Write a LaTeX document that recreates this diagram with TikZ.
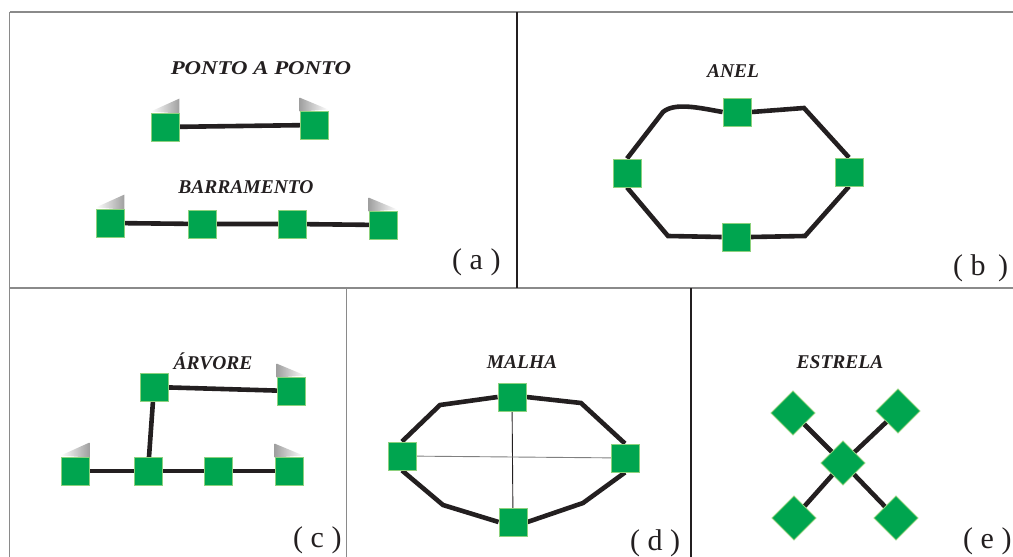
\documentclass[tikz,border=0pt]{standalone}
\usepackage{fontspec}
\setmainfont{Liberation Serif}
\pgfdeclarelayer{bg}
\pgfsetlayers{bg,main}
\definecolor{nodegreen}{HTML}{00A54F}
\definecolor{nodeedge}{HTML}{8DD17E}
\definecolor{wire}{HTML}{231F20}
\definecolor{framegray}{HTML}{8A8A8A}
\tikzset{
  sq/.style={draw=nodeedge, fill=nodegreen, line width=0.9pt, minimum size=28pt, inner sep=0pt},
  dia/.style={sq, minimum size=31pt, rotate=45},
  link/.style={draw=wire, line width=4.6pt, line join=miter},
  thin link/.style={draw=wire, line width=0.9pt},
  title/.style={font=\fontsize{19.5}{20}\selectfont\bfseries\itshape, text=wire, anchor=base, inner sep=0pt},
  tag/.style={font=\fontsize{30}{30}\selectfont, text=wire, anchor=base west, inner sep=0pt},
  frame/.style={draw=framegray, line width=1.6pt},
  divider/.style={draw=wire, line width=1.2pt},
}
% grey wedge shadows standing above the end stations
\newcommand{\wedgeL}[1]{%
  \shade[left color=white, right color=gray!75]
    ([yshift=1pt]#1.north west) -- ([yshift=14pt]#1.north east) -- ([yshift=-1pt]#1.north east) -- cycle;}
\newcommand{\wedgeR}[1]{%
  \shade[left color=gray!75, right color=white]
    ([yshift=13pt]#1.north west) -- ([yshift=1pt]#1.north east) -- ([yshift=-1pt]#1.north west) -- cycle;}
\begin{document}
\begin{tikzpicture}[x=1pt, y=-1pt]
\useasboundingbox (0,0) rectangle (1013,557);

% panel frame
\draw[frame] (9.5,12) -- (1020,12);
\draw[frame] (9.5,12) -- (9.5,560);
\draw[frame] (9.5,288) -- (1020,288);
\draw[frame] (346.5,288) -- (346.5,560);
\draw[divider] (517,12) -- (517,288);
\draw[divider] (691,288) -- (691,560);

% (a) point to point and bus
\node[title] (tP2P) at (261,74) {\scalebox{1.17}[1]{PONTO A PONTO}};
\node[sq] (p1) at (165,127) {};
\node[sq] (p2) at (314,125) {};

\node[title] (tBus) at (246,193) {BARRAMENTO};
\node[sq] (b1) at (110,223) {};
\node[sq] (b2) at (202,224) {};
\node[sq] (b3) at (292,224) {};
\node[sq] (b4) at (383,225) {};
\node[tag] (la) at (452,269) {( a )};

% (b) ring
\node[title] (tRing) at (733,77) {ANEL};
\node[sq] (rT) at (737,112) {};
\node[sq] (rL) at (627,173) {};
\node[sq] (rR) at (849,172) {};
\node[sq] (rB) at (736,237) {};
\coordinate (r1) at (663,112);
\coordinate (r2) at (804,108);
\coordinate (r3) at (805,236);
\coordinate (r4) at (668,236);
\node[tag] (lb) at (953,275) {( b\, )};

% (c) tree
\node[title] (tTree) at (213,369) {ÁRVORE};
\node[sq] (cT) at (154,387) {};
\node[sq] (cR) at (291,391) {};
\node[sq] (c1) at (75,471) {};
\node[sq] (c2) at (148,471) {};
\node[sq] (c3) at (218,471) {};
\node[sq] (c4) at (289,471) {};
\node[tag] (lc) at (293,547) {( c )};

% (d) mesh
\node[title] (tMesh) at (522,368) {MALHA};
\node[sq] (mT) at (512,397) {};
\node[sq] (mL) at (402,456) {};
\node[sq] (mR) at (625,458) {};
\node[sq] (mB) at (513,522) {};
\coordinate (m1) at (440,405);
\coordinate (m2) at (581,403);
\coordinate (m3) at (583,503);
\coordinate (m4) at (443,505);
\node[tag] (ld) at (630,550) {( d )};

% (e) star
\node[title] (tStar) at (840,368) {ESTRELA};
\node[dia] (sC) at (843,463) {};
\node[dia] (s1) at (793,413) {};
\node[dia] (s2) at (898,411) {};
\node[dia] (s3) at (794,518) {};
\node[dia] (s4) at (896,518) {};
\node[tag] (le) at (963,548) {( e )};

% shadows and connectors, kept underneath the stations
\begin{pgfonlayer}{bg}
  \wedgeL{p1} \wedgeR{p2}
  \wedgeL{b1} \wedgeR{b4}
  \wedgeR{cR} \wedgeL{c1} \wedgeR{c4}

  \draw[link] (p1.center) -- (p2.center);
  \draw[link] (b1.center) -- (b2.center) -- (b3.center) -- (b4.center);

  \draw[link] (rL.north) -- (r1) .. controls (675,102) and (700,108) .. (rT.west);
  \draw[link] (rT.east) -- (r2) -- (rR.north);
  \draw[link] (rR.south) -- (r3) -- (rB.east);
  \draw[link] (rB.west) -- (r4) -- (rL.south);

  \draw[link] (cT.center) -- (cR.center);
  \draw[link] (cT.center) -- (c2.center);
  \draw[link] (c1.center) -- (c2.center) -- (c3.center) -- (c4.center);

  \draw[link] (mL.north) -- (m1) -- (mT.west);
  \draw[link] (mT.east) -- (m2) -- (mR.north);
  \draw[link] (mR.south) -- (m3) -- (mB.east);
  \draw[link] (mB.west) -- (m4) -- (mL.south);
  \draw[thin link] (mT.center) -- (mB.center);
  \draw[thin link, draw=gray] (mL.center) -- (mR.center);

  \draw[link] (sC.center) -- (s1.center);
  \draw[link] (sC.center) -- (s2.center);
  \draw[link] (sC.center) -- (s3.center);
  \draw[link] (sC.center) -- (s4.center);
\end{pgfonlayer}
\end{tikzpicture}
\end{document}
